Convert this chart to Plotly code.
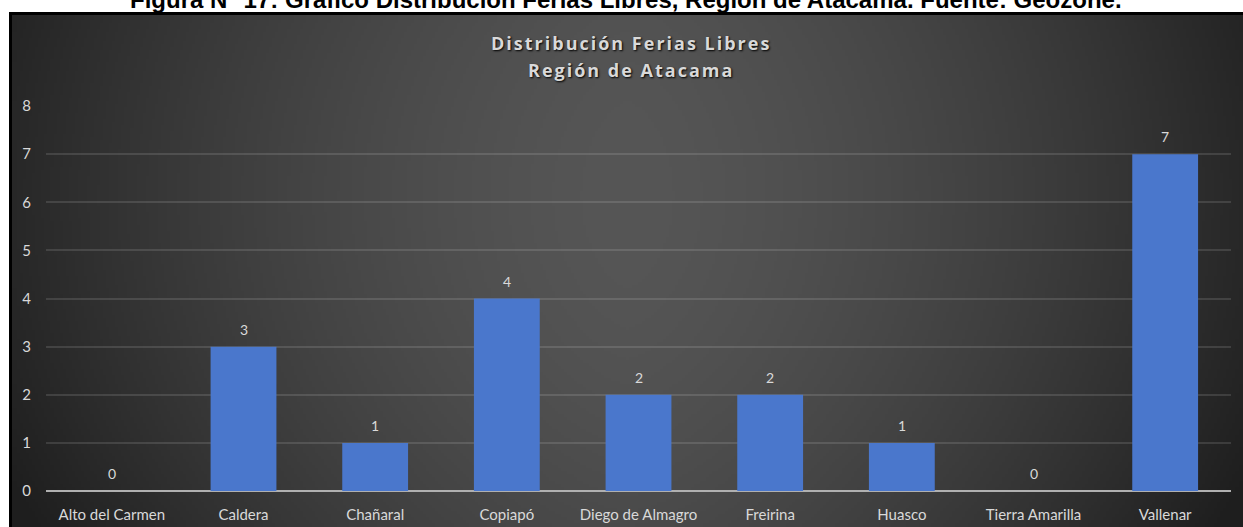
import base64, struct, zlib
import numpy as np
import plotly.graph_objects as go

categories = ["Alto del Carmen", "Caldera", "Chañaral", "Copiapó", "Diego de Almagro",
              "Freirina", "Huasco", "Tierra Amarilla", "Vallenar"]
ferias = [0, 3, 1, 4, 2, 2, 1, 0, 7]
y_ticks = [0, 1, 2, 3, 4, 5, 6, 7, 8]

W, H = 1243, 527
L, R, T, B = 46, 12, 106, 36
pw, ph = W - L - R, H - T - B

def px_x(p):
    return (p - L) / pw

def px_y(p):
    return (H - B - p) / ph

# radial-ish dark background as a small PNG
iw, ih = 400, 170
xx = np.linspace(-1, 1, iw)[None, :]
yy = np.linspace(-1, 1, ih)[:, None]
v = 86 - 46 * np.abs(xx) ** 1.5 - 12 * (yy + 0.3) ** 2 / 1.7
v = np.clip(v, 30, 95).astype(np.uint8)
img = np.stack([v, v, v], axis=-1)

def make_png(arr):
    h, w, _ = arr.shape
    raw = b"".join(b"\x00" + arr[i].tobytes() for i in range(h))
    def chunk(t, d):
        return struct.pack(">I", len(d)) + t + d + struct.pack(">I", zlib.crc32(t + d) & 0xffffffff)
    return (b"\x89PNG\r\n\x1a\n" + chunk(b"IHDR", struct.pack(">IIBBBBB", w, h, 8, 2, 0, 0, 0))
            + chunk(b"IDAT", zlib.compress(raw, 9)) + chunk(b"IEND", b""))

src = "data:image/png;base64," + base64.b64encode(make_png(img)).decode()

fig = go.Figure()
fig.add_trace(go.Bar(
    x=categories, y=ferias,
    marker=dict(color="#4a77cc", line=dict(width=0)),
    hoverinfo="skip",
))

label_annots = [
    dict(x=c, y=v_, xref="x", yref="y", text=str(v_), showarrow=False,
         yanchor="bottom", yshift=7,
         font=dict(family="Lato", size=14, color="#d9d9d9"))
    for c, v_ in zip(categories, ferias)
]

fig.update_layout(
    width=W, height=H,
    margin=dict(l=L, r=R, t=T, b=B, pad=0, autoexpand=False),
    paper_bgcolor="white", plot_bgcolor="rgba(0,0,0,0)",
    bargap=0.5, showlegend=False,
    images=[dict(source=src, xref="paper", yref="paper",
                 x=px_x(12), y=px_y(15), sizex=px_x(W) - px_x(12), sizey=px_y(15) - px_y(H),
                 xanchor="left", yanchor="top", sizing="stretch", layer="below")],
    shapes=[
        dict(type="line", xref="paper", yref="paper", x0=px_x(10.5), x1=px_x(10.5),
             y0=px_y(12), y1=px_y(H), line=dict(color="black", width=3), layer="above"),
        dict(type="line", xref="paper", yref="paper", x0=px_x(9), x1=px_x(W),
             y0=px_y(13.5), y1=px_y(13.5), line=dict(color="black", width=3), layer="above"),
    ],
    annotations=[
        dict(text="<b>Figura N° 17: Gráfico Distribución Ferias Libres, Región de Atacama. Fuente: Geozone.</b>",
             xref="paper", yref="paper", x=px_x(626), y=px_y(15), xanchor="center", yanchor="bottom",
             showarrow=False, font=dict(family="Liberation Sans", size=24, color="black")),
        dict(text="<b>Distribución Ferias Libres</b>", xref="paper", yref="paper",
             x=px_x(631), y=px_y(43), xanchor="center", yanchor="middle", showarrow=False,
             font=dict(family="Open Sans", size=18, color="#d9d9d9", shadow="1px 1px 2px black")),
        dict(text="<b>Región de Atacama</b>", xref="paper", yref="paper",
             x=px_x(631), y=px_y(70), xanchor="center", yanchor="middle", showarrow=False,
             font=dict(family="Open Sans", size=18, color="#d9d9d9", shadow="1px 1px 2px black")),
    ] + label_annots,
)

fig.update_xaxes(type="category", showgrid=False, showline=False, ticks="", automargin=False,
                 tickfont=dict(family="Lato", size=15, color="#d9d9d9"), ticklabelstandoff=13)
fig.update_yaxes(range=[0, 8], tickvals=y_ticks, showgrid=True, automargin=False,
                 gridcolor="rgba(255,255,255,0.12)", gridwidth=1.5,
                 zeroline=True, zerolinecolor="#b0b0b0", zerolinewidth=2,
                 tickfont=dict(family="Lato", size=15, color="#d9d9d9"), ticklabelstandoff=14)

post = """
document.body.style.margin='0';
document.body.style.overflow='hidden';
function spaceTitles(){
  document.querySelectorAll('.annotation-text').forEach(function(t){
    var s = t.textContent;
    if (s.indexOf('Distribución Ferias') === 0 || s.indexOf('Región de Atacama') === 0) {
      t.style.letterSpacing = '2px';
    }
  });
}
spaceTitles();
var gd = document.getElementById('{plot_id}');
if (gd && gd.on) { gd.on('plotly_afterplot', spaceTitles); }
setTimeout(spaceTitles, 30);
"""

fig.write_html("out.html", config={"displayModeBar": False}, post_script=post)
